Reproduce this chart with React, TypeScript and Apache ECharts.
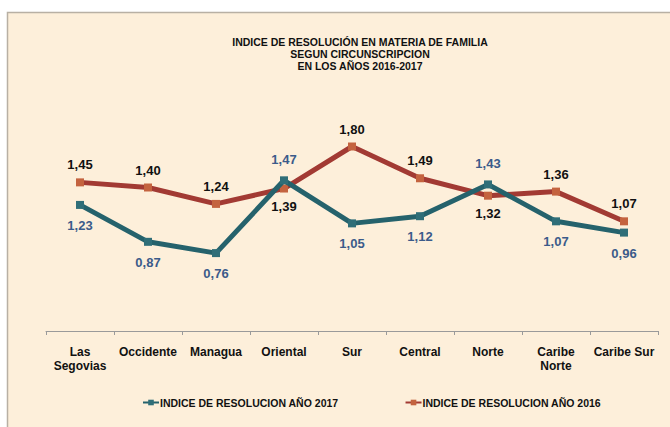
import React, { useEffect, useRef } from "react";
import * as echarts from "echarts";

const categories = ["Las\nSegovias", "Occidente", "Managua", "Oriental", "Sur", "Central", "Norte", "Caribe\nNorte", "Caribe Sur"];
const values2017 = [1.23, 0.87, 0.76, 1.47, 1.05, 1.12, 1.43, 1.07, 0.96];
const values2016 = [1.45, 1.40, 1.24, 1.39, 1.80, 1.49, 1.32, 1.36, 1.07];
const labelPos2017 = ["bottom", "bottom", "bottom", "top", "bottom", "bottom", "top", "bottom", "bottom"];
const labelPos2016 = ["top", "top", "top", "bottom", "top", "top", "bottom", "top", "top"];
const titleLines = ["INDICE DE RESOLUCIÓN EN MATERIA DE FAMILIA", "SEGUN CIRCUNSCRIPCION", "EN LOS AÑOS 2016-2017"];
const seriesNames = ["INDICE DE RESOLUCION AÑO 2017", "INDICE DE RESOLUCION AÑO 2016"];

const FONT = "'Liberation Sans Narrow', 'Liberation Sans', Arial, sans-serif";

const fmt = (v: number) => v.toFixed(2).replace(".", ",");

export default function App() {
  const ref = useRef<HTMLDivElement>(null);
  useEffect(() => {
    if (!ref.current) return;
    const chart = echarts.init(ref.current, undefined, { renderer: "svg" });
    chart.setOption({
      animation: false,
      backgroundColor: "#ffffff",
      graphic: [
        {
          type: "rect",
          shape: { x: 7.5, y: 12.5, width: 670, height: 420 },
          style: { fill: "#FDEFDA", stroke: "#B8B0A4", lineWidth: 1.5 },
          z: -10,
        },
      ],
      title: {
        text: titleLines.join("\n"),
        left: 355,
        top: 31,
        textAlign: "center",
        textStyle: { fontFamily: FONT, fontWeight: "bold", fontSize: 10.5, lineHeight: 12, color: "#111" },
      },
      legend: {
        top: 392,
        left: 137,
        itemGap: 66,
        itemWidth: 16,
        itemHeight: 7,
        textStyle: { fontFamily: FONT, fontWeight: "bold", fontSize: 10.5, color: "#111", padding: [0, 0, 0, -4] },
        data: seriesNames,
      },
      grid: { left: 46, right: 12, top: 126, bottom: 96 },
      xAxis: {
        type: "category",
        data: categories,
        boundaryGap: true,
        axisLine: { lineStyle: { color: "#9a9a9a", width: 1 } },
        axisTick: { show: true, length: 4, lineStyle: { color: "#9a9a9a" } },
        axisLabel: { fontFamily: FONT, fontWeight: "bold", fontSize: 12, color: "#111", lineHeight: 14, margin: 14, interval: 0 },
      },
      yAxis: {
        type: "value",
        min: 0,
        max: 2,
        show: false,
        splitLine: { show: false },
      },
      series: [
        {
          name: seriesNames[0],
          type: "line",
          data: values2017.map((v, i) => ({ value: v, label: { position: labelPos2017[i] } })),
          symbol: "rect",
          symbolSize: 8,
          lineStyle: { color: "#25626C", width: 5 },
          itemStyle: { color: "#2F6E78" },
          label: {
            show: true,
            formatter: (p: any) => fmt(p.value),
            fontFamily: FONT,
            fontWeight: "bold",
            fontSize: 13,
            color: "#3B5B8A",
            distance: 10,
          },
          z: 3,
        },
        {
          name: seriesNames[1],
          type: "line",
          data: values2016.map((v, i) => ({ value: v, label: { position: labelPos2016[i] } })),
          symbol: "rect",
          symbolSize: 8,
          lineStyle: { color: "#A23A33", width: 5 },
          itemStyle: { color: "#C4633F" },
          label: {
            show: true,
            formatter: (p: any) => fmt(p.value),
            fontFamily: FONT,
            fontWeight: "bold",
            fontSize: 13,
            color: "#111",
            distance: 7,
          },
          z: 2,
        },
      ],
    });
    return () => chart.dispose();
  }, []);
  return <div ref={ref} style={{ position: "absolute", left: 0, top: 0, width: 670, height: 427 }} />;
}
